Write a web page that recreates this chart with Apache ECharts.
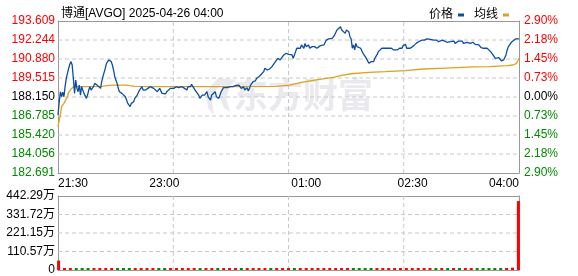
<!DOCTYPE html>
<html><head><meta charset="utf-8">
<script src="https://cdn.jsdelivr.net/npm/echarts@6/dist/echarts.min.js"></script>
<style>html,body{margin:0;padding:0;background:#fff}#c{width:578px;height:276px}</style>
</head><body><div id="c"></div>
<script>
const titleText = '博通[AVGO] 2025-04-26 04:00';
const legendNames = ['价格', '均线'];
const watermarkText = '东方财富';
const timeLabels = ['21:30', '23:00', '01:00', '02:30', '04:00'];
const timeLabelMinutes = [0, 90, 210, 300, 390];
const priceLabels = ['182.691','184.056','185.420','186.785','188.150','189.515','190.880','192.244','193.609'];
const pctLabels = ['2.90%','2.18%','1.45%','0.73%','0.00%','0.73%','1.45%','2.18%','2.90%'];
const volLabels = ['0','110.57万','221.15万','331.72万','442.29万'];
const priceMin = 182.691, priceMax = 193.609;
const volMax = 442.29;

const priceMinutes = [0,1,2,3,4,5,6,7,9,10,11,12,13,14,15,16,17,18,19,20,21,22,24,25,26,27,28,30,31,33,34,36,37,38,40,41,43,44,45,46,47,48,50,51,52,54,55,57,58,59,60,61,62,64,65,67,68,69,71,72,74,75,76,78,79,81,82,84,85,86,88,89,91,92,93,95,96,98,99,
100,102,103,105,106,107,109,110,112,113,114,116,117,119,120,122,123,124,126,127,129,130,131,133,134,136,137,138,140,141,143,144,146,147,148,150,151,153,154,155,157,158,160,161,162,163,164,165,167,168,170,171,172,174,175,177,178,179,181,182,184,185,186,188,189,191,192,193,195,196,
198,199,201,202,203,205,206,208,209,210,212,213,215,216,217,219,220,222,223,225,226,227,229,230,232,233,234,236,237,239,240,241,243,244,246,247,248,249,250,251,252,253,254,256,257,258,260,261,263,264,265,267,268,270,271,272,274,275,277,278,280,281,282,284,285,287,288,289,291,292,294,
295,296,298,299,301,302,303,305,306,308,309,310,312,313,315,316,318,319,320,322,323,325,326,327,329,330,332,333,335,336,337,339,340,342,343,344,346,347,349,350,351,353,354,356,357,358,360,361,363,364,366,367,368,370,371,373,374,375,377,378,379,380,381,382,384,385,387,388,389,390];
const priceValues = [186.86,187.77,188.53,188.17,188.49,188.17,188.89,189.49,190.21,190.50,190.69,190.45,189.49,188.41,189.37,188.77,188.53,189.01,188.29,188.89,189.01,188.41,188.05,188.29,188.65,188.89,188.65,188.89,189.13,189.01,188.89,188.77,189.25,189.61,190.21,190.57,190.81,190.93,190.69,190.45,190.09,189.61,189.13,188.77,188.53,188.41,188.41,188.17,187.93,187.69,187.58,187.46,187.69,187.81,188.05,188.29,188.29,188.65,188.89,188.65,188.65,188.77,188.77,188.89,189.01,188.77,188.89,188.53,188.65,188.77,188.41,188.53,188.37,188.53,188.65,188.77,188.65,188.77,188.72,
188.89,188.82,188.96,188.89,189.01,188.77,188.65,188.89,188.89,189.06,188.96,188.65,188.53,188.29,188.05,188.29,188.41,188.29,188.53,188.17,187.93,188.29,188.41,188.53,188.17,188.05,188.29,188.53,188.82,188.89,188.82,188.96,188.89,189.01,188.89,188.96,188.82,189.01,188.89,188.77,188.89,188.65,188.82,188.58,188.77,189.01,189.13,189.25,189.30,189.49,189.61,189.61,189.78,189.97,190.21,190.09,190.21,190.16,190.33,190.45,190.69,190.81,190.93,190.81,190.93,191.17,191.21,191.29,191.21,191.29,
191.17,190.93,191.41,191.65,191.77,191.65,191.89,191.65,192.00,191.77,191.89,191.65,191.77,191.65,191.77,191.65,191.77,191.84,191.77,191.89,192.00,192.24,192.32,192.32,192.36,192.24,192.60,192.96,193.08,193.20,192.96,192.84,192.72,192.96,192.84,192.48,192.32,191.65,191.89,191.53,192.00,191.77,191.65,191.65,191.53,191.29,191.05,190.93,190.57,190.57,190.69,190.69,190.93,191.21,191.41,191.53,191.65,191.53,191.65,191.53,191.65,191.53,191.65,191.53,191.65,191.53,191.65,191.65,191.65,191.84,191.93,
191.65,191.77,191.65,191.77,191.84,191.89,192.00,192.12,192.17,192.24,192.17,192.24,192.32,192.32,192.29,192.24,192.24,192.17,192.24,192.12,192.17,192.24,192.12,192.17,192.08,192.17,192.12,192.08,192.17,192.00,192.12,192.17,192.08,192.17,192.00,192.12,192.08,192.17,192.00,192.12,192.08,191.93,192.00,191.89,191.84,191.69,191.65,191.69,191.65,191.53,191.41,191.29,191.17,190.93,190.81,190.98,190.88,190.74,190.81,190.81,191.17,191.53,191.77,191.89,192.12,192.24,192.32,192.32,192.32,192.32];

const avgMinutes = [0,2,3,5,6,8,9,11,13,17,26,37,43,47,57,61,65,82,99,140,185,196,206,220,234,240,248,263,277,294,309,323,337,351,365,380,385,388,390];
const avgValues = [186.02,186.86,187.46,187.69,187.77,188.17,188.49,188.72,188.87,188.89,188.89,188.92,188.99,189.01,189.01,188.96,188.92,188.89,188.89,188.89,188.92,189.01,189.20,189.40,189.58,189.70,189.82,189.92,189.97,190.05,190.16,190.21,190.26,190.31,190.33,190.40,190.45,190.57,190.93];

const volMinutes = [0,5,10,15,20,25,30,35,40,45,50,55,60,65,70,75,80,85,90,95,100,105,110,115,120,125,130,135,140,145,150,155,160,165,170,175,180,185,190,195,200,205,210,215,220,225,230,235,240,245,250,255,260,265,270,275,280,285,290,295,300,305,310,315,320,325,330,335,340,345,350,355,360,365,370,375,380,385,390];
const volValues = [56,5,6,4,5,6,5,4,6,5,5,4,6,5,4,5,6,4,5,5,4,6,5,4,5,5,6,4,5,4,5,6,4,5,5,4,6,5,4,5,5,4,6,5,5,4,5,6,4,5,4,5,6,5,4,5,5,6,4,5,5,4,5,6,5,4,5,6,5,4,5,5,6,4,5,6,5,14,412];

const RED = '#ff0000', GREEN = '#008a00';
const FRAME = { show: true, onZero: false, lineStyle: { color: '#999', width: 1 } };
const pStep = (priceMax - priceMin) / 8;
const vStep = volMax / 4;
function priceAt(m) {
  let v = priceValues[0];
  for (let i = 0; i < priceMinutes.length; i++) { if (priceMinutes[i] <= m) v = priceValues[i]; else break; }
  return v;
}
const volData = volMinutes.map((m, i) => {
  const prev = i === 0 ? null : priceAt(volMinutes[i - 1]);
  const cur = priceAt(m);
  const up = prev === null || cur >= prev;
  return { value: [m, volValues[i]], itemStyle: { color: up ? RED : GREEN } };
});
const font = "'Liberation Sans','Noto Sans CJK SC',sans-serif";
const idxOf = v => Math.round((v - priceMin) / pStep);
const noLbl = { show: false };
const noTick = { show: false };

// gridlines built from the axis tick steps, drawn through the axes as broken line series
function gridPath(xMin, xMax, xStep, yMin, yMax, yStep, nx, ny) {
  const pts = [];
  for (let k = 1; k < ny; k++) { const y = yMin + k * yStep; pts.push([xMin, y], [xMax, y], '-'); }
  for (let k = 1; k < nx; k++) { const x = xMin + k * xStep; pts.push([x, yMin], [x, yMax], '-'); }
  return pts;
}
const gridStyle = { color: '#c8c8c8', type: [4, 3], width: 1 };

const chart = echarts.init(document.getElementById('c'), null, { renderer: 'canvas' });
chart.setOption({
  animation: false,
  backgroundColor: '#fff',
  textStyle: { fontFamily: font },
  title: { text: titleText, left: 56, top: 3, textStyle: { fontSize: 12, fontWeight: 'normal', color: '#000', fontFamily: font } },
  legend: {
    data: legendNames, right: 64, top: 4, align: 'right', icon: 'rect', itemWidth: 6, itemHeight: 3, itemGap: 10,
    textStyle: { fontSize: 12, color: '#000', fontFamily: font }
  },
  graphic: [
    { type: 'polygon', z: 0, silent: true,
      shape: { points: [[218,78],[206,92],[208,108],[214,115],[212,102],[216,90],[222,84],[220,98],[224,108],[230,112],[226,98],[230,86],[236,80]] },
      style: { fill: '#e9e9ee' } },
    { type: 'text', left: 233, top: 77, z: 0, silent: true,
      style: { text: watermarkText, font: "bold 35px 'Noto Sans CJK SC'", fill: '#e9e9ee' } }
  ],
  grid: [
    { left: 58, top: 21, width: 461, height: 152, show: false },
    { left: 58, top: 196, width: 461, height: 74, show: false }
  ],
  xAxis: [
    { gridIndex: 0, type: 'value', min: 0, max: 390, position: 'top', axisLine: FRAME, axisTick: noTick, axisLabel: noLbl, splitLine: { show: false } },
    { gridIndex: 0, type: 'value', min: 0, max: 390, position: 'bottom', axisLine: FRAME, axisTick: noTick, splitLine: { show: false },
      axisLabel: { customValues: timeLabelMinutes, formatter: v => timeLabels[timeLabelMinutes.indexOf(Math.round(v))], alignMinLabel: 'left', alignMaxLabel: 'right', margin: 5, color: '#000', fontSize: 12, fontFamily: font } },
    { gridIndex: 1, type: 'value', min: -0.5, max: 390.5, position: 'bottom', axisLine: FRAME, axisTick: noTick, axisLabel: noLbl, splitLine: { show: false } },
    { gridIndex: 1, type: 'value', min: -0.5, max: 390.5, position: 'top', axisLine: FRAME, axisTick: noTick, axisLabel: noLbl, splitLine: { show: false } }
  ],
  yAxis: [
    { gridIndex: 0, type: 'value', position: 'left', min: priceMin, max: priceMax, interval: pStep, axisLine: FRAME, axisTick: noTick, splitLine: { show: false },
      axisLabel: { margin: 3, fontSize: 12, fontFamily: font, formatter: v => priceLabels[idxOf(v)],
        color: v => { const i = idxOf(v); return i > 4 ? RED : (i === 4 ? '#000' : GREEN); } } },
    { gridIndex: 0, type: 'value', position: 'right', min: priceMin, max: priceMax, interval: pStep, axisLine: FRAME, axisTick: noTick, splitLine: { show: false },
      axisLabel: { margin: 5, fontSize: 12, fontFamily: font, formatter: v => pctLabels[idxOf(v)],
        color: v => { const i = idxOf(v); return i > 4 ? RED : (i === 4 ? '#000' : GREEN); } } },
    { gridIndex: 1, type: 'value', position: 'left', min: 0, max: volMax, interval: vStep, axisLine: FRAME, axisTick: noTick, splitLine: { show: false },
      axisLabel: { margin: 3, fontSize: 12, fontFamily: font, color: '#000', formatter: v => volLabels[Math.round(v / vStep)] } },
    { gridIndex: 1, type: 'value', position: 'right', min: 0, max: volMax, axisLine: FRAME, axisTick: noTick, axisLabel: noLbl, splitLine: { show: false } }
  ],
  series: [
    { name: 'gridMain', type: 'line', xAxisIndex: 1, yAxisIndex: 0, z: 1, showSymbol: false, silent: true, connectNulls: false,
      data: gridPath(0, 390, 97.5, priceMin, priceMax, pStep, 4, 8), lineStyle: gridStyle, emphasis: { disabled: true } },
    { name: 'gridVol', type: 'line', xAxisIndex: 2, yAxisIndex: 2, z: 1, showSymbol: false, silent: true, connectNulls: false,
      data: gridPath(-0.5, 390.5, 97.75, 0, volMax, vStep, 4, 4), lineStyle: gridStyle, emphasis: { disabled: true } },
    { name: legendNames[0], type: 'line', xAxisIndex: 1, yAxisIndex: 0, showSymbol: false, z: 6,
      data: priceMinutes.map((m, i) => [m, priceValues[i]]),
      lineStyle: { color: '#0b4ea4', width: 1.3 }, itemStyle: { color: '#0b4ea4' } },
    { name: legendNames[1], type: 'line', xAxisIndex: 1, yAxisIndex: 0, showSymbol: false, z: 5,
      data: avgMinutes.map((m, i) => [m, avgValues[i]]),
      lineStyle: { color: '#e0a21d', width: 1.3 }, itemStyle: { color: '#e0a21d' } },
    { name: 'vol', type: 'bar', xAxisIndex: 2, yAxisIndex: 2, z: 5, barWidth: 3, barMinHeight: 2, data: volData }
  ]
});
</script></body></html>
